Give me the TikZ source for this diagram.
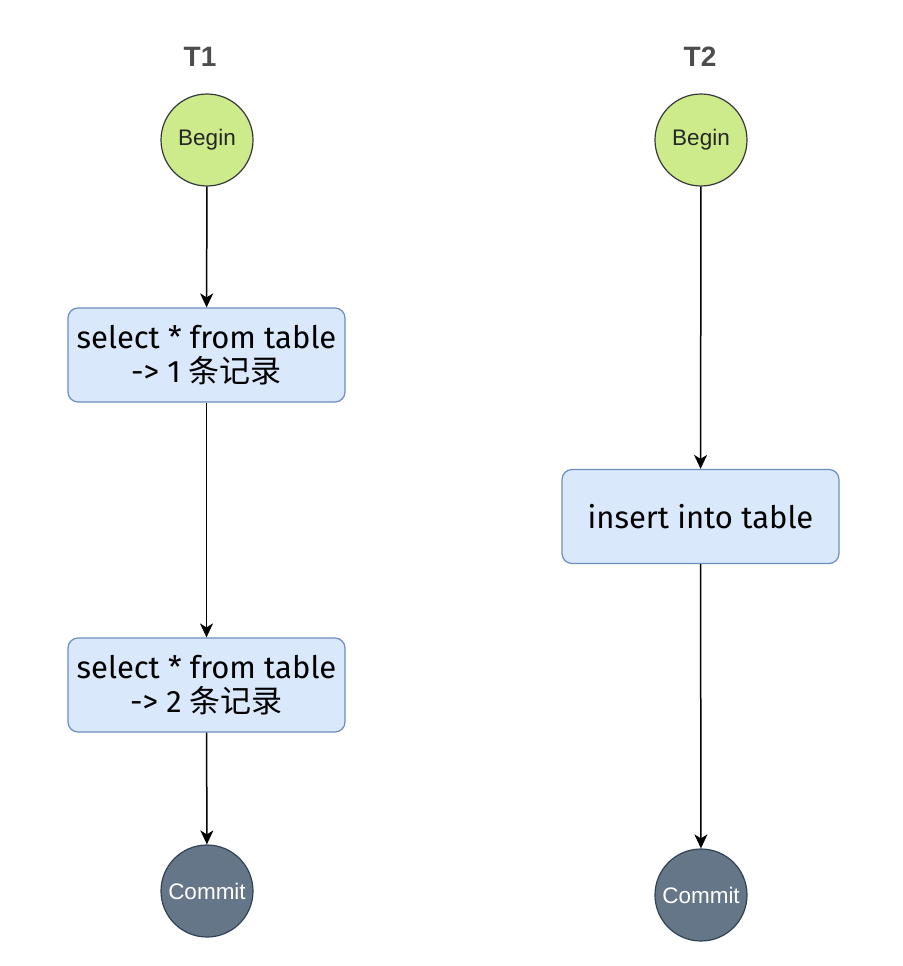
\documentclass[tikz,border=0pt]{standalone}
\usepackage{fontspec}
\setmainfont{Fira Sans}
\newfontfamily\cjkf{Noto Sans CJK SC}
\newfontfamily\helv{Liberation Sans}
\usetikzlibrary{arrows.meta}
\definecolor{gfill}{HTML}{CDEB8B}
\definecolor{gline}{HTML}{36393D}
\definecolor{bfill}{HTML}{DAE8FC}
\definecolor{bline}{HTML}{6C8EBF}
\definecolor{cfill}{HTML}{647687}
\definecolor{cline}{HTML}{314354}
\definecolor{ttl}{HTML}{4D4D4D}
\begin{document}
\begin{tikzpicture}[x=1pt,y=-1pt,
  ttlnode/.style={font=\helv\bfseries\fontsize{28}{32}\selectfont, text=ttl},
  begc/.style={circle, draw=gline, fill=gfill, line width=1.2pt, minimum size=92pt, inner sep=0pt, text=black!85, font=\helv\fontsize{22.5}{26}\selectfont},
  comc/.style={circle, draw=cline, fill=cfill, line width=1.2pt, minimum size=92pt, inner sep=0pt, text=white, font=\helv\fontsize{22.5}{26}\selectfont},
  boxn/.style={rectangle, rounded corners=10pt, draw=bline, fill=bfill, line width=1.2pt, minimum width=277pt, minimum height=94pt, inner sep=0pt, align=center, font=\fontsize{31}{34}\selectfont},
  conn/.style={-{Stealth[length=14pt,width=13pt,inset=4pt]}, line width=1.5pt, black}]
\useasboundingbox (0,0) rectangle (902,966);
\fill[white] (0,0) rectangle (902,966);
\node[ttlnode] (t1) at (200,57) {T1};
\node[ttlnode] (t2) at (700,57) {T2};
\node[begc] (b1) at (207,140) {Begin};
\node[begc] (b2) at (701,140) {Begin};
\node[boxn] (s1) at (206.5,355) {select * from table\\-> 1 {\cjkf 条记录}};
\node[boxn] (s2) at (206.5,685) {select * from table\\-> 2 {\cjkf 条记录}};
\node[boxn] (i2) at (700.5,516.5) {insert into table};
\node[comc] (c1) at (207,891) {Commit};
\node[comc] (c2) at (701,895) {Commit};
\draw[conn] (b1) -- (s1);
\draw[conn] (s1) -- (s2);
\draw[conn] (s2) -- (c1);
\draw[conn] (b2) -- (i2);
\draw[conn] (i2) -- (c2);
\end{tikzpicture}
\end{document}
